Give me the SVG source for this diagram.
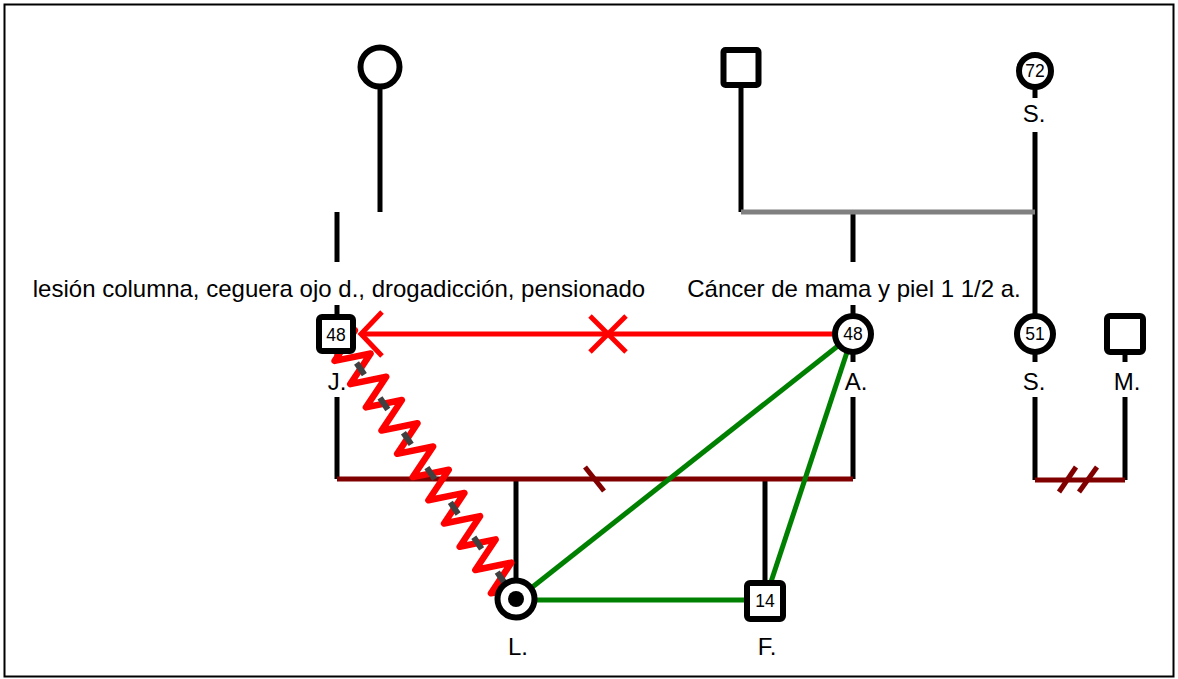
<svg xmlns="http://www.w3.org/2000/svg" width="1178" height="679" viewBox="0 0 1178 679">
  <style>
    .ln { stroke: #000; stroke-width: 5; fill: none; }
    .kin { stroke: #808080; stroke-width: 5; fill: none; }
    .mar { stroke: #800000; stroke-width: 5; fill: none; }
    .conflict { stroke: #ff0000; stroke-width: 5; fill: none; }
    .close { stroke: #008000; stroke-width: 5; fill: none; }
    .node { fill: #fff; stroke: #000; stroke-width: 6; }
    .lbl { font-family: "Liberation Sans", Arial, sans-serif; font-size: 24px; fill: #000; text-anchor: middle; }
    .age { font-family: "Liberation Sans", Arial, sans-serif; font-size: 17.5px; fill: #000; text-anchor: middle; }
  </style>

  <!-- frame -->
  <rect x="4.5" y="4.5" width="1169" height="672" fill="#fff" stroke="#000" stroke-width="2"/>

  <g id="connectors">
    <!-- descent lines -->
    <line class="ln" x1="380" y1="85" x2="380" y2="212"/>
    <line class="ln" x1="337" y1="212" x2="337" y2="262"/>
    <line class="ln" x1="337" y1="305" x2="337" y2="318"/>
    <line class="ln" x1="337" y1="350" x2="337" y2="362"/>
    <line class="ln" x1="337" y1="397" x2="337" y2="479"/>
    <line class="ln" x1="741" y1="85" x2="741" y2="212"/>
    <line class="ln" x1="853" y1="212" x2="853" y2="262"/>
    <line class="ln" x1="853" y1="305" x2="853" y2="318"/>
    <line class="ln" x1="853" y1="350" x2="853" y2="362"/>
    <line class="ln" x1="853" y1="397" x2="853" y2="479"/>
    <line class="ln" x1="1035" y1="85" x2="1035" y2="98"/>
    <line class="ln" x1="1035" y1="132" x2="1035" y2="318"/>
    <line class="ln" x1="1035" y1="350" x2="1035" y2="362"/>
    <line class="ln" x1="1035" y1="397" x2="1035" y2="480"/>
    <line class="ln" x1="1125" y1="350" x2="1125" y2="362"/>
    <line class="ln" x1="1125" y1="397" x2="1125" y2="480"/>
    <line class="ln" x1="516" y1="479" x2="516" y2="585"/>
    <line class="ln" x1="765" y1="479" x2="765" y2="585"/>

    <!-- sibling line -->
    <line class="kin" x1="741" y1="212" x2="1035" y2="212"/>

    <!-- unions -->
    <line class="mar" x1="337" y1="479" x2="853" y2="479"/>
    <line class="mar" x1="585" y1="467" x2="604" y2="491"/>
    <line class="mar" x1="1035" y1="480" x2="1125" y2="480"/>
    <line class="mar" x1="1059" y1="492" x2="1076" y2="467"/>
    <line class="mar" x1="1079" y1="492" x2="1097" y2="467"/>

    <!-- close bonds -->
    <line class="close" x1="516" y1="600" x2="765" y2="600"/>
    <line class="close" x1="516" y1="600" x2="853" y2="334"/>
    <line class="close" x1="765" y1="600" x2="853" y2="334"/>

    <!-- broken, one-way hostile bond A. to J. -->
    <line class="conflict" x1="853" y1="334" x2="361" y2="334"/>
    <polyline class="conflict" points="382,312 361,334 382,356"/>
    <line class="conflict" x1="590" y1="316" x2="626" y2="352"/>
    <line class="conflict" x1="590" y1="352" x2="626" y2="316"/>

    <!-- hostile bond with abuse J. to L. -->
    <g transform="translate(337,334) rotate(56.06)">
      <polyline class="conflict" style="stroke-width:6.5; stroke-linejoin:round"
        points="0,0 7,-17 21,17 35,-17 49,17 63,-17 77,17 91,-17 105,17 119,-17 133,17 147,-17 161,17 175,-17 189,17 203,-17 217,17 231,-17 245,17 259,-17 273,17 287,-17 301,17 315,-17 321,0"/>
      <line x1="0" y1="0" x2="321" y2="0" stroke="#404040" stroke-width="6" stroke-dasharray="14 28" stroke-dashoffset="7"/>
    </g>
  </g>

  <!-- annotations -->
  <text class="lbl" x="339" y="297">lesión columna, ceguera ojo d., drogadicción, pensionado</text>
  <text class="lbl" x="854" y="297">Cáncer de mama y piel 1 1/2 a.</text>

  <g id="grandmother-paternal">
    <circle class="node" cx="380" cy="67" r="19.5" stroke-width="7"/>
  </g>
  <g id="grandfather-maternal">
    <rect class="node" x="723.5" y="50" width="35" height="35" rx="2" stroke-width="7"/>
  </g>
  <g id="S-72">
    <circle class="node" cx="1035" cy="71" r="16"/>
    <text class="age" x="1035" y="77">72</text>
    <text class="lbl" x="1034" y="122">S.</text>
  </g>
  <g id="J">
    <rect class="node" x="319" y="317" width="34" height="34" rx="3"/>
    <text class="age" x="336" y="341">48</text>
    <text class="lbl" x="337" y="390">J.</text>
  </g>
  <g id="A">
    <circle class="node" cx="853" cy="334" r="18"/>
    <text class="age" x="853" y="340">48</text>
    <text class="lbl" x="856" y="390">A.</text>
  </g>
  <g id="S-51">
    <circle class="node" cx="1035" cy="334" r="18"/>
    <text class="age" x="1035" y="340">51</text>
    <text class="lbl" x="1034" y="390">S.</text>
  </g>
  <g id="M">
    <rect class="node" x="1107" y="316" width="36" height="36" rx="3" stroke-width="7"/>
    <text class="lbl" x="1127" y="390">M.</text>
  </g>
  <g id="L">
    <circle class="node" cx="516" cy="599" r="18.5" stroke-width="7"/>
    <circle cx="516" cy="599" r="8" fill="#000"/>
    <text class="lbl" x="518" y="655">L.</text>
  </g>
  <g id="F">
    <rect class="node" x="747" y="583" width="36" height="36" rx="3"/>
    <text class="age" x="765" y="607">14</text>
    <text class="lbl" x="767" y="655">F.</text>
  </g>
</svg>
